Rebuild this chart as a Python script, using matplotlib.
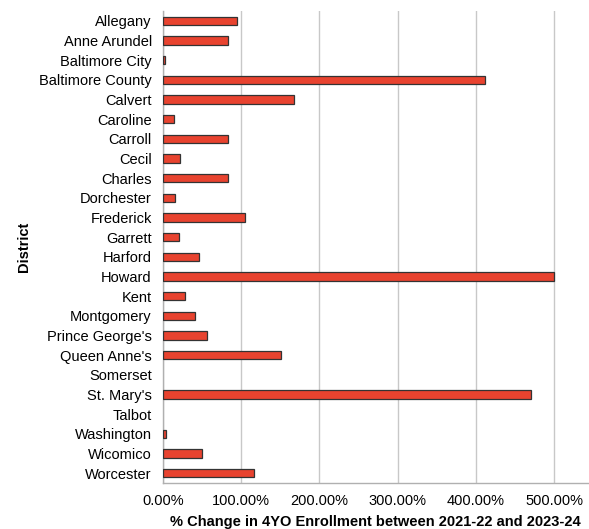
import matplotlib
matplotlib.use("Agg")
import matplotlib.pyplot as plt
from matplotlib.ticker import FuncFormatter

plt.rcParams['font.family'] = ['Liberation Sans', 'DejaVu Sans']

districts = ["Allegany", "Anne Arundel", "Baltimore City", "Baltimore County", "Calvert",
             "Caroline", "Carroll", "Cecil", "Charles", "Dorchester", "Frederick", "Garrett",
             "Harford", "Howard", "Kent", "Montgomery", "Prince George's", "Queen Anne's",
             "Somerset", "St. Mary's", "Talbot", "Washington", "Wicomico", "Worcester"]
pct_change = [95, 83.5, 2, 412, 167, 14, 83, 22, 83, 15, 105, 21,
              45.5, 500, 28, 40.5, 56.5, 151, 0, 470, 0, 4, 50, 116]
x_ticks = [0, 100, 200, 300, 400, 500]

fig = plt.figure(figsize=(5.89, 5.29), dpi=100)
ax = fig.add_axes([0.2767, 0.087, 0.7213, 0.892])

ypos = list(range(len(districts)))
bars = ax.barh(ypos, pct_change, height=0.42, color="#E8432F", edgecolor="#333333",
               linewidth=0.9, zorder=3)
# zero-length bars leave no visible mark
for b, v in zip(bars, pct_change):
    if v == 0:
        b.set_visible(False)

ax.set_ylim(len(districts) - 0.5, -0.5)
ax.set_yticks(ypos)
ax.set_yticklabels(districts, fontsize=10.5)
ax.set_xlim(0, 543)
ax.set_xticks(x_ticks)
ax.xaxis.set_major_formatter(FuncFormatter(lambda v, _: f"{v:.2f}%"))
ax.tick_params(axis='x', labelsize=10.5, length=0, pad=8)
ax.tick_params(axis='y', length=0, pad=8)

ax.grid(axis='x', color="#c8c8c8", linewidth=1.0, zorder=0)
for s in ("top", "right"):
    ax.spines[s].set_visible(False)
for s in ("left", "bottom"):
    ax.spines[s].set_color("#b0b0b0")
    ax.spines[s].set_linewidth(1.0)

ax.set_xlabel("% Change in 4YO Enrollment between 2021-22 and 2023-24",
              fontsize=10.5, fontweight="bold", labelpad=5)
ax.set_ylabel("District", fontsize=10.5, fontweight="bold", labelpad=5.5)

fig.savefig("out.png", dpi=100)
